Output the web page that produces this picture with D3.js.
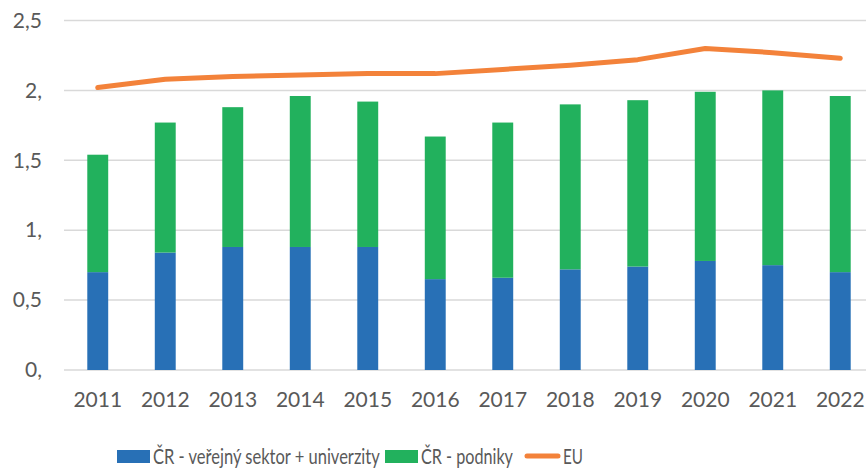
<!DOCTYPE html>
<html>
<head>
<meta charset="utf-8">
<script src="https://cdn.jsdelivr.net/npm/d3@7"></script>
<style>
  body { margin: 0; background: #fff; }
  text { font-family: Lato, "Open Sans", sans-serif; fill: #595959; }
</style>
</head>
<body>
<div id="chart"></div>
<script>
// chart size
var svgWidth = 866;
var svgHeight = 468;

// data
var years = ["2011", "2012", "2013", "2014", "2015", "2016", "2017", "2018", "2019", "2020", "2021", "2022"];
var publicSector = [0.70, 0.84, 0.88, 0.88, 0.88, 0.65, 0.66, 0.72, 0.74, 0.78, 0.75, 0.70];
var business = [0.84, 0.93, 1.00, 1.08, 1.04, 1.02, 1.11, 1.18, 1.19, 1.21, 1.25, 1.26];
var euValues = [2.02, 2.08, 2.10, 2.11, 2.12, 2.12, 2.15, 2.18, 2.22, 2.30, 2.27, 2.23];
var yTicks = [0, 0.5, 1, 1.5, 2, 2.5];
var seriesNames = ["ČR - veřejný sektor + univerzity", "ČR - podniky", "EU"];
var colors = ["#2870b6", "#22b15d", "#f3823a"];

var margin = { top: 20.5, right: -8, bottom: 98, left: 64 };
var width = svgWidth - margin.left - margin.right;
var height = svgHeight - margin.top - margin.bottom;

var svg = d3.select("#chart")
  .append("svg")
  .attr("width", svgWidth)
  .attr("height", svgHeight);

var chartGroup = svg.append("g")
  .attr("transform", `translate(${margin.left}, ${margin.top})`);

var xScale = d3.scaleBand()
  .domain(years)
  .range([0, width])
  .paddingInner(0.69)
  .paddingOuter(0.345);

var yScale = d3.scaleLinear()
  .domain([0, 2.5])
  .range([height, 0]);

// gridlines
chartGroup.selectAll(".grid")
  .data(yTicks)
  .enter()
  .append("line")
  .attr("x1", 0)
  .attr("x2", width)
  .attr("y1", d => yScale(d))
  .attr("y2", d => yScale(d))
  .attr("stroke", "#d9d9d9")
  .attr("stroke-width", 1.5);

// y labels
var yAxis = d3.axisLeft(yScale)
  .tickValues(yTicks)
  .tickSize(0)
  .tickPadding(22)
  .tickFormat(d => d3.format(".1f")(d).replace(".0", ",").replace(".", ","));
var yAxisG = chartGroup.append("g").call(yAxis);
yAxisG.select(".domain").remove();
yAxisG.selectAll("text")
  .attr("font-size", 21)
  .attr("font-family", "Lato")
  .attr("fill", "#595959");

// x labels
var xAxis = d3.axisBottom(xScale).tickSize(0).tickPadding(22);
var xAxisG = chartGroup.append("g")
  .attr("transform", `translate(0, ${height})`)
  .call(xAxis);
xAxisG.select(".domain").remove();
xAxisG.selectAll("text")
  .attr("font-size", 21)
  .attr("font-family", "Lato")
  .attr("fill", "#595959");

// stacked bars
var stackData = years.map((y, i) => ({ year: y, pub: publicSector[i], bus: business[i] }));
var stack = d3.stack().keys(["pub", "bus"]);
var layers = stack(stackData);

chartGroup.selectAll(".layer")
  .data(layers)
  .enter()
  .append("g")
  .attr("fill", (d, i) => colors[i])
  .selectAll("rect")
  .data(d => d)
  .enter()
  .append("rect")
  .attr("x", d => xScale(d.data.year))
  .attr("width", xScale.bandwidth())
  .attr("y", d => yScale(d[1]))
  .attr("height", d => yScale(d[0]) - yScale(d[1]));

// EU line
var line = d3.line()
  .x((d, i) => xScale(years[i]) + xScale.bandwidth() / 2)
  .y(d => yScale(d));

chartGroup.append("path")
  .datum(euValues)
  .attr("d", line)
  .attr("fill", "none")
  .attr("stroke", colors[2])
  .attr("stroke-width", 5)
  .attr("stroke-linecap", "round")
  .attr("stroke-linejoin", "round");

// legend - the original text is narrow, so squeeze it horizontally
var legend = svg.append("g");
var legendY = 456;

function squeezedText(x, label, targetW) {
  var t = legend.append("text")
    .attr("font-size", 22)
    .text(label);
  var w = t.node().getComputedTextLength();
  t.attr("transform", `translate(${x}, ${legendY + 8}) scale(${targetW / w}, 1)`);
}

legend.append("rect")
  .attr("x", 117).attr("y", legendY - 6)
  .attr("width", 33).attr("height", 13)
  .attr("fill", colors[0]);
squeezedText(153, seriesNames[0], 227);

legend.append("rect")
  .attr("x", 385).attr("y", legendY - 6)
  .attr("width", 33).attr("height", 13)
  .attr("fill", colors[1]);
squeezedText(421, seriesNames[1], 92);

legend.append("line")
  .attr("x1", 527).attr("x2", 558)
  .attr("y1", legendY).attr("y2", legendY)
  .attr("stroke", colors[2])
  .attr("stroke-width", 5)
  .attr("stroke-linecap", "round");
squeezedText(563, seriesNames[2], 20);
</script>
</body>
</html>
